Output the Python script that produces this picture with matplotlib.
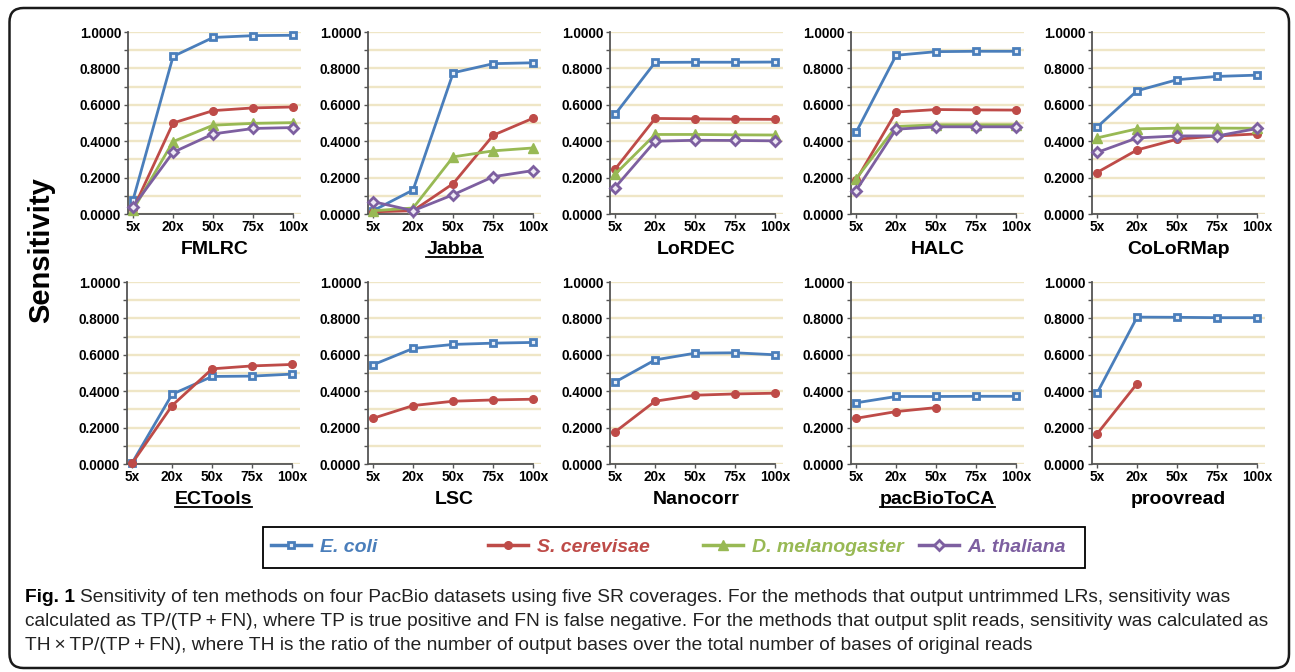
import matplotlib
matplotlib.use('Agg')
import matplotlib.pyplot as plt
import matplotlib.patches as mpatches
from matplotlib.lines import Line2D
from matplotlib.transforms import IdentityTransform
from matplotlib.ticker import FormatStrFormatter
import numpy as np

nan = np.nan
coverages = ['5x', '20x', '50x', '75x', '100x']
species = ['E. coli', 'S. cerevisae', 'D. melanogaster', 'A. thaliana']
methods = ['FMLRC', 'Jabba', 'LoRDEC', 'HALC', 'CoLoRMap',
           'ECTools', 'LSC', 'Nanocorr', 'pacBioToCA', 'proovread']
underlined = ['Jabba', 'ECTools', 'pacBioToCA']

fmlrc_ecoli = [0.077, 0.866, 0.970, 0.980, 0.982]
fmlrc_scer = [0.025, 0.500, 0.568, 0.583, 0.588]
fmlrc_dmel = [0.022, 0.398, 0.488, 0.498, 0.502]
fmlrc_atha = [0.040, 0.339, 0.440, 0.470, 0.475]

jabba_ecoli = [0.018, 0.132, 0.776, 0.826, 0.831]
jabba_scer = [0.012, 0.018, 0.167, 0.433, 0.527]
jabba_dmel = [0.018, 0.033, 0.314, 0.347, 0.363]
jabba_atha = [0.068, 0.018, 0.106, 0.205, 0.239]

lordec_ecoli = [0.547, 0.833, 0.834, 0.834, 0.835]
lordec_scer = [0.246, 0.525, 0.523, 0.521, 0.520]
lordec_dmel = [0.218, 0.437, 0.437, 0.435, 0.434]
lordec_atha = [0.145, 0.400, 0.405, 0.404, 0.402]

halc_ecoli = [0.448, 0.872, 0.892, 0.894, 0.894]
halc_scer = [0.185, 0.560, 0.574, 0.572, 0.571]
halc_dmel = [0.193, 0.481, 0.490, 0.490, 0.490]
halc_atha = [0.128, 0.466, 0.479, 0.479, 0.479]

colormap_ecoli = [0.477, 0.677, 0.738, 0.756, 0.763]
colormap_scer = [0.228, 0.352, 0.411, 0.429, 0.440]
colormap_dmel = [0.418, 0.468, 0.472, 0.472, 0.471]
colormap_atha = [0.338, 0.418, 0.429, 0.429, 0.470]

ectools_ecoli = [0.005, 0.383, 0.481, 0.483, 0.494]
ectools_scer = [0.003, 0.321, 0.523, 0.539, 0.547]

lsc_ecoli = [0.545, 0.635, 0.657, 0.664, 0.668]
lsc_scer = [0.251, 0.321, 0.345, 0.352, 0.356]

nanocorr_ecoli = [0.450, 0.572, 0.609, 0.611, 0.600]
nanocorr_scer = [0.176, 0.345, 0.378, 0.385, 0.389]

pacbiotoca_ecoli = [0.336, 0.371, 0.371, 0.372, 0.372]
pacbiotoca_scer = [0.251, 0.288, 0.310, nan, nan]

proovread_ecoli = [0.389, 0.807, 0.806, 0.804, 0.804]
proovread_scer = [0.165, 0.442, nan, nan, nan]

panel_data = {
    'FMLRC': [fmlrc_ecoli, fmlrc_scer, fmlrc_dmel, fmlrc_atha],
    'Jabba': [jabba_ecoli, jabba_scer, jabba_dmel, jabba_atha],
    'LoRDEC': [lordec_ecoli, lordec_scer, lordec_dmel, lordec_atha],
    'HALC': [halc_ecoli, halc_scer, halc_dmel, halc_atha],
    'CoLoRMap': [colormap_ecoli, colormap_scer, colormap_dmel, colormap_atha],
    'ECTools': [ectools_ecoli, ectools_scer],
    'LSC': [lsc_ecoli, lsc_scer],
    'Nanocorr': [nanocorr_ecoli, nanocorr_scer],
    'pacBioToCA': [pacbiotoca_ecoli, pacbiotoca_scer],
    'proovread': [proovread_ecoli, proovread_scer],
}

caption_head = 'Fig. 1'
caption_lines = [
    'Sensitivity of ten methods on four PacBio datasets using five SR coverages. For the methods that output untrimmed LRs, sensitivity was',
    'calculated as TP/(TP\u2009+\u2009FN), where TP is true positive and FN is false negative. For the methods that output split reads, sensitivity was calculated as',
    'TH\u2009\u00d7\u2009TP/(TP\u2009+\u2009FN), where TH is the ratio of the number of output bases over the total number of bases of original reads',
]

# ---------------- styling ----------------
plt.rcParams['font.family'] = ['Liberation Sans', 'DejaVu Sans']
plt.rcParams['font.weight'] = 'bold'

colors = ['#4A7EBB', '#BE4B48', '#98B954', '#7D5FA0']
styles = [
    dict(marker='s', ms=5.0, mfc='#E8EEF7', mec=colors[0], mew=2.0),
    dict(marker='o', ms=5.5, mfc=colors[1], mec=colors[1], mew=1.0),
    dict(marker='^', ms=6.5, mfc=colors[2], mec=colors[2], mew=1.0),
    dict(marker='D', ms=5.0, mfc='#EEE9F4', mec=colors[3], mew=2.0),
]
grid_col = '#EFE6C6'
axis_col = '#555555'

W, H = 1295, 672
fig = plt.figure(figsize=(W / 100, H / 100), dpi=100)

row_lefts = [[128, 368, 610, 851, 1092], [127, 368, 610, 851, 1092]]
row_tb = [(32, 214), (282, 464)]
ax_w = 173

title_texts = []
x = np.arange(len(coverages))
for i, name in enumerate(methods):
    r, c = divmod(i, 5)
    left = row_lefts[r][c]
    top, bottom = row_tb[r]
    ax = fig.add_axes([left / W, 1 - bottom / H, ax_w / W, (bottom - top) / H])
    ax.set_xlim(-0.125, 4.19)
    ax.set_ylim(0, 1)
    ax.set_axisbelow(True)
    for k, vals in enumerate(panel_data[name]):
        ax.plot(x, vals, color=colors[k], lw=2.0, clip_on=False, zorder=3 + k,
                **styles[k])
    ax.set_xticks(x, coverages)
    ax.set_yticks(np.arange(0, 1.01, 0.2))
    ax.set_yticks(np.arange(0.1, 1.0, 0.2), minor=True)
    ax.yaxis.set_major_formatter(FormatStrFormatter('%.4f'))
    ax.grid(axis='y', which='both', color=grid_col, lw=1.7)
    for s in ['top', 'right']:
        ax.spines[s].set_visible(False)
    for s in ['left', 'bottom']:
        ax.spines[s].set_color(axis_col)
        ax.spines[s].set_linewidth(1.3)
    ax.spines['bottom'].set_bounds(-0.125, 4)
    ax.tick_params(axis='both', which='both', direction='out', length=3,
                   width=1, color=axis_col, labelsize=9.8, pad=2)
    ax.tick_params(axis='x', pad=1.5)
    for lab in ax.get_xticklabels() + ax.get_yticklabels():
        lab.set_fontweight('bold')
    h = bottom - top
    t = ax.text(0.5, -(40) / h, name, transform=ax.transAxes, ha='center',
                va='baseline', fontsize=14, fontweight='bold')
    title_texts.append((name, t, ax, -(40) / h))

fig.text(41 / W, 1 - 250 / H, 'Sensitivity', rotation=90, ha='center',
         va='center', fontsize=21, fontweight='bold')

# legend
leg_x = [271, 488, 703, 919]
leg_y = 547
for k, lab in enumerate(species):
    hnd = Line2D([], [], color=colors[k], lw=2.5, **styles[k])
    fig.legend(handles=[hnd], labels=[lab], loc='center left',
               bbox_to_anchor=(leg_x[k] / W, 1 - leg_y / H), frameon=False,
               prop=dict(family='Liberation Sans', weight='bold',
                         style='italic', size=14),
               handlelength=2.05, handletextpad=0.45, borderpad=0,
               borderaxespad=0, labelcolor=colors[k])
fig.add_artist(mpatches.Rectangle((263, H - 568), 822, 41,
                                  transform=IdentityTransform(), fill=False,
                                  lw=1.3, ec='black'))

# outer rounded frame
fig.add_artist(mpatches.FancyBboxPatch((9.5, 4), 1279.5, 660,
                                       boxstyle='round,pad=0,rounding_size=14',
                                       transform=IdentityTransform(),
                                       fill=False, lw=1.8, ec='#1a1a1a'))

fig.canvas.draw()
renderer = fig.canvas.get_renderer()

# underlines
for name, t, ax, yoff in title_texts:
    if name in underlined:
        bb = t.get_window_extent(renderer)
        base = ax.transAxes.transform((0.5, yoff))[1]
        fig.add_artist(Line2D([bb.x0, bb.x1], [base - 3, base - 3],
                              transform=IdentityTransform(), color='black',
                              lw=1.3))

# caption
cap_family = ['Liberation Sans', 'DejaVu Sans']
cap_x0 = 25
cap_y = [597, 621, 645]
probe = fig.text(0, 0, caption_lines[1], fontsize=12, family=cap_family,
                 fontweight='normal')
wprobe = probe.get_window_extent(renderer).width
probe.remove()
cap_fs = 12 * (1276 - cap_x0) / wprobe

head = fig.text(cap_x0 / W, 1 - cap_y[0] / H, caption_head, fontsize=cap_fs,
                family=cap_family, fontweight='bold', va='center')
hb = head.get_window_extent(renderer)
fig.text((hb.x1 + 5) / W, 1 - cap_y[0] / H, caption_lines[0], fontsize=cap_fs,
         family=cap_family, fontweight='normal', va='center', color='#222222')
for j in (1, 2):
    fig.text(cap_x0 / W, 1 - cap_y[j] / H, caption_lines[j], fontsize=cap_fs,
             family=cap_family, fontweight='normal', va='center',
             color='#222222')

fig.savefig('out.png', dpi=100)
